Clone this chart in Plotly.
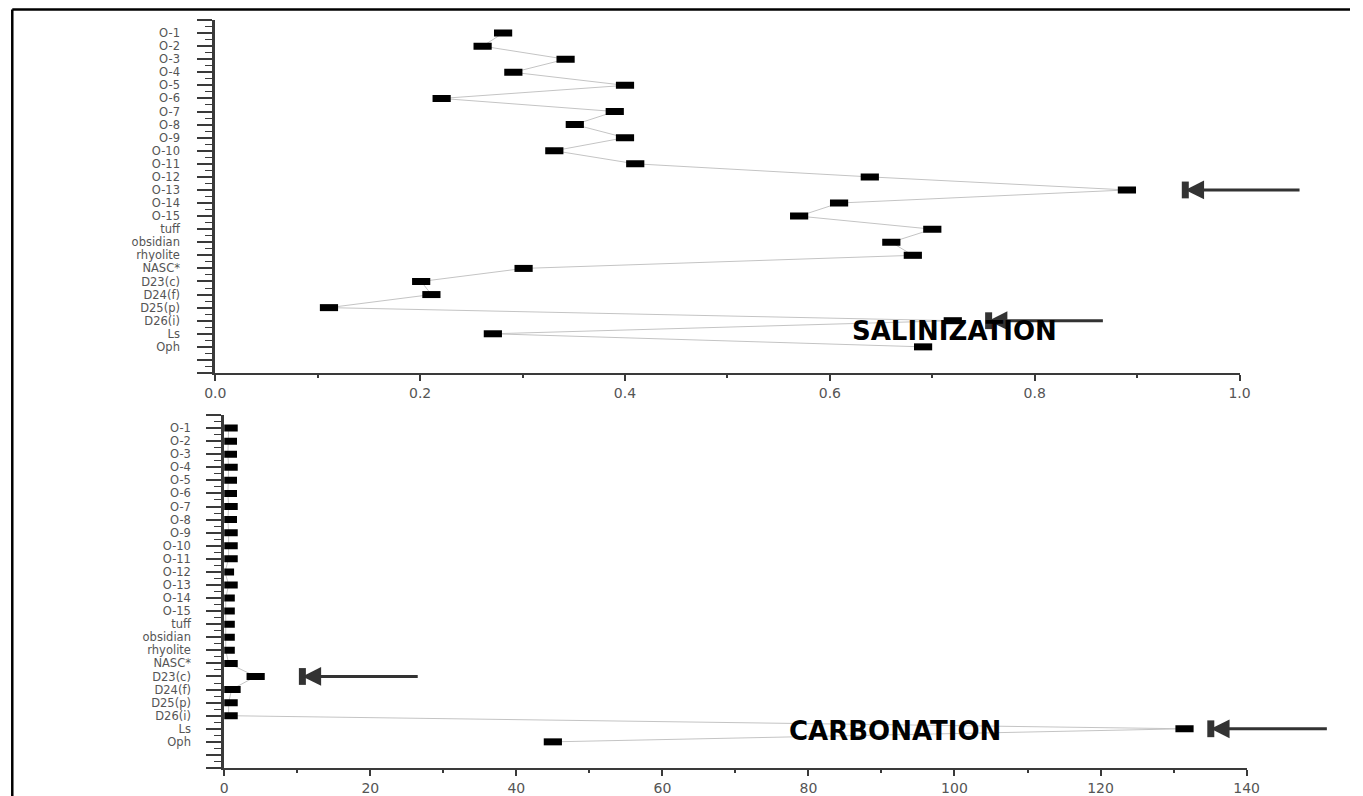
import plotly.graph_objects as go

# ---------------- data ----------------
samples = ["O-1", "O-2", "O-3", "O-4", "O-5", "O-6", "O-7", "O-8", "O-9", "O-10",
           "O-11", "O-12", "O-13", "O-14", "O-15", "tuff", "obsidian", "rhyolite",
           "NASC*", "D23(c)", "D24(f)", "D25(p)", "D26(i)", "Ls", "Oph"]

salinization = [0.281, 0.261, 0.342, 0.291, 0.400, 0.221, 0.390, 0.351, 0.400, 0.331,
                0.410, 0.639, 0.890, 0.609, 0.570, 0.700, 0.660, 0.681,
                0.301, 0.201, 0.211, 0.111, 0.720, 0.271, 0.691]

carbonation = [0.6, 0.5, 0.5, 0.6, 0.5, 0.5, 0.6, 0.5, 0.6, 0.6,
               0.6, 0.1, 0.6, 0.2, 0.2, 0.2, 0.2, 0.2,
               0.6, 4.3, 1.0, 0.6, 0.6, 131.5, 45.0]

sal_arrow_rows = ["O-13", "D26(i)"]
sal_arrow_tip = [0.947, 0.755]
sal_arrow_tail = [1.060, 0.868]

carb_arrow_rows = ["D23(c)", "Ls"]
carb_arrow_tip = [10.7, 135.1]
carb_arrow_tail = [26.7, 151.2]

sal_x_ticks = [0.0, 0.2, 0.4, 0.6, 0.8, 1.0]
sal_x_ticktext = ["0.0", "0.2", "0.4", "0.6", "0.8", "1.0"]
carb_x_ticks = [0, 20, 40, 60, 80, 100, 120, 140]

panel_titles = ["SALINIZATION", "CARBONATION"]

# ---------------- derived ----------------
row_index = {s: i for i, s in enumerate(samples)}
rows = [row_index[s] for s in samples]
n = len(samples)
y_tickvals = [-1] + rows + [n, n + 1]
y_ticktext = [""] + samples + ["", ""]
y_minor = [i + 0.5 for i in range(-1, n + 1)]

W, H = 1363, 796
LINE_C = "#c4c4c4"
ARROW_C = "#333333"
LABEL_C = "#555555"
AXIS_C = "#3a3a3a"
FONT = "DejaVu Sans, Arial, sans-serif"


def fx(px):
    """horizontal pixel target -> paper fraction (compensates page offset)"""
    return (px - 10.4) / 0.984 / W


def fy(px):
    return 1 - px / H


fig = go.Figure()


def add_panel(values, xa, ya, arrow_rows, arrow_tip, arrow_tail):
    fig.add_trace(go.Scatter(
        x=values, y=rows, mode="lines+markers", xaxis=xa, yaxis=ya,
        line=dict(color=LINE_C, width=1),
        marker=dict(symbol="line-ew", size=13, color="black",
                    line=dict(color="black", width=7)),
        showlegend=False, hoverinfo="skip"))
    ar = [row_index[r] for r in arrow_rows]
    fig.add_trace(go.Scatter(
        x=arrow_tip, y=ar, mode="markers", xaxis=xa, yaxis=ya,
        marker=dict(symbol="line-ns", size=12, color=ARROW_C,
                    line=dict(color=ARROW_C, width=7)),
        showlegend=False, hoverinfo="skip", cliponaxis=False))
    for t, tl, r in zip(arrow_tip, arrow_tail, ar):
        fig.add_annotation(x=t, y=r, ax=tl, ay=r, xref=xa, yref=ya,
                           axref=xa, ayref=ya, text="", showarrow=True,
                           arrowhead=2, arrowsize=1.25, arrowwidth=3,
                           arrowcolor=ARROW_C, standoff=0)


add_panel(salinization, "x", "y", sal_arrow_rows, sal_arrow_tip, sal_arrow_tail)
add_panel(carbonation, "x2", "y2", carb_arrow_rows, carb_arrow_tip, carb_arrow_tail)

fig.add_annotation(x=0.722, y=22.8, xref="x", yref="y", text=panel_titles[0],
                   showarrow=False, font=dict(family=FONT, size=26, color="black",
                                              weight="bold"))
fig.add_annotation(x=91.8, y=23.18, xref="x2", yref="y2", text=panel_titles[1],
                   showarrow=False, font=dict(family=FONT, size=26, color="black",
                                              weight="bold"))

x_tick_font = dict(family=FONT, size=14, color=LABEL_C)
y_tick_font = dict(family=FONT, size=11.5, color=LABEL_C)


def xaxis_cfg(domain, rng, tickvals, ticktext, minor_dtick, anchor):
    return dict(domain=domain, range=rng, anchor=anchor,
                tickmode="array", tickvals=tickvals, ticktext=ticktext,
                ticks="outside", ticklen=6, tickwidth=2, tickcolor=AXIS_C,
                minor=dict(ticks="outside", ticklen=3, tickwidth=1.5,
                           tickcolor=AXIS_C, dtick=minor_dtick, tick0=0,
                           showgrid=False),
                showline=True, linecolor=AXIS_C, linewidth=2,
                showgrid=False, zeroline=False, tickfont=x_tick_font)


def yaxis_cfg(domain, anchor, standoff):
    return dict(domain=domain, range=[n + 1, -1], anchor=anchor,
                tickmode="array", tickvals=y_tickvals, ticktext=y_ticktext,
                ticks="outside", ticklen=15, tickwidth=1.5, tickcolor=AXIS_C,
                minor=dict(ticks="outside", ticklen=7, tickwidth=1.2,
                           tickcolor=AXIS_C, tickvals=y_minor, showgrid=False),
                showline=True, linecolor=AXIS_C, linewidth=3,
                showgrid=False, zeroline=False, tickfont=y_tick_font,
                ticklabelstandoff=standoff)


fig.update_layout(
    width=W, height=H, autosize=False,
    margin=dict(l=0, r=0, t=0, b=0, pad=0),
    paper_bgcolor="white", plot_bgcolor="white",
    font=dict(family=FONT),
    xaxis=xaxis_cfg([fx(215), fx(1241)], [0, 1.0], sal_x_ticks, sal_x_ticktext, 0.1, "y"),
    yaxis=yaxis_cfg([fy(373), fy(20)], "x", 15),
    xaxis2=xaxis_cfg([fx(224), fx(1248)], [0, 140], carb_x_ticks,
                     [str(v) for v in carb_x_ticks], 10, "y2"),
    yaxis2=yaxis_cfg([fy(768), fy(415)], "x2", 13),
    shapes=[
        dict(type="line", xref="paper", yref="paper",
             x0=1.3 / W, x1=1, y0=fy(9.5), y1=fy(9.5),
             line=dict(color="black", width=2.5)),
        dict(type="line", xref="paper", yref="paper",
             x0=1.3 / W, x1=1.3 / W, y0=0, y1=fy(9.5),
             line=dict(color="black", width=2.5)),
    ],
)

fig.write_html("out.html")
